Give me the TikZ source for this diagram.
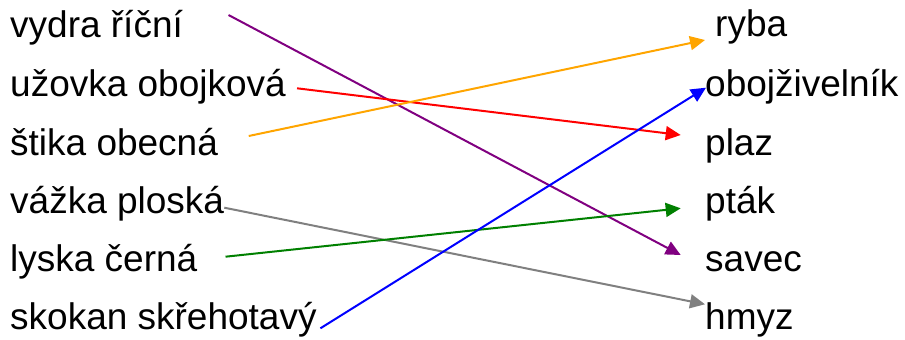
\documentclass[tikz,border=0pt]{standalone}
\usepackage{fontspec}
\setmainfont{Liberation Sans}
\usetikzlibrary{arrows.meta,calc}
\definecolor{cpurple}{RGB}{128,0,128}
\definecolor{cred}{RGB}{255,0,0}
\definecolor{corange}{RGB}{255,165,0}
\definecolor{cblue}{RGB}{0,0,255}
\definecolor{cgray}{RGB}{128,128,128}
\definecolor{cgreen}{RGB}{0,128,0}
\begin{document}
\begin{tikzpicture}[x=1pt,y=-1pt,
  lbl/.style={inner sep=0pt,font=\fontsize{37}{40}\selectfont},
  lefttxt/.style={lbl,anchor=base west},
  righttxt/.style={lbl,anchor=base west},
  link/.style={line width=2pt,-{Triangle[length=15pt,width=14pt]}}]
\useasboundingbox (0,0) rectangle (905,340);
% left column
\node[lefttxt] (vydra)  at (10,37)    {vydra říční};
\node[lefttxt] (uzovka) at (10,96.7)  {užovka obojková};
\node[lefttxt] (stika)  at (10,155)   {štika obecná};
\node[lefttxt] (vazka)  at (10,213.3) {vážka ploská};
\node[lefttxt] (lyska)  at (10,271.7) {lyska černá};
\node[lefttxt] (skokan) at (10,329.3) {skokan skřehotavý};
% right column
\node[righttxt] (ryba)  at (715,36.7)  {ryba};
\node[righttxt] (oboj)  at (705,96.7)  {obojživelník};
\node[righttxt] (plaz)  at (705,155)   {plaz};
\node[righttxt] (ptak)  at (705,213.3) {pták};
\node[righttxt] (savec) at (705,271.7) {savec};
\node[righttxt] (hmyz)  at (705,329.3) {hmyz};
% connectors
\draw[link,cpurple] ($(vydra.base east)+(45.4,-22)$) -- ($(savec.base west)+(-24.3,-16.7)$);
\draw[link,cred]    ($(uzovka.base east)+(11,-8.4)$) -- ($(plaz.base west)+(-24.3,-20)$);
\draw[link,corange] ($(stika.base east)+(30.6,-19)$) -- ($(ryba.base west)+(-10,3.3)$);
\draw[link,cgray]   ($(vazka.base east)+(0,-5.6)$) -- ($(hmyz.base west)+(0,-25)$);
\draw[link,cgreen]  ($(lyska.base east)+(28,-15)$) -- ($(ptak.base west)+(-24.3,-5)$);
\draw[link,cblue]   ($(skokan.base east)+(3.6,-1)$) -- ($(oboj.base west)+(1,-9)$);
\end{tikzpicture}
\end{document}
